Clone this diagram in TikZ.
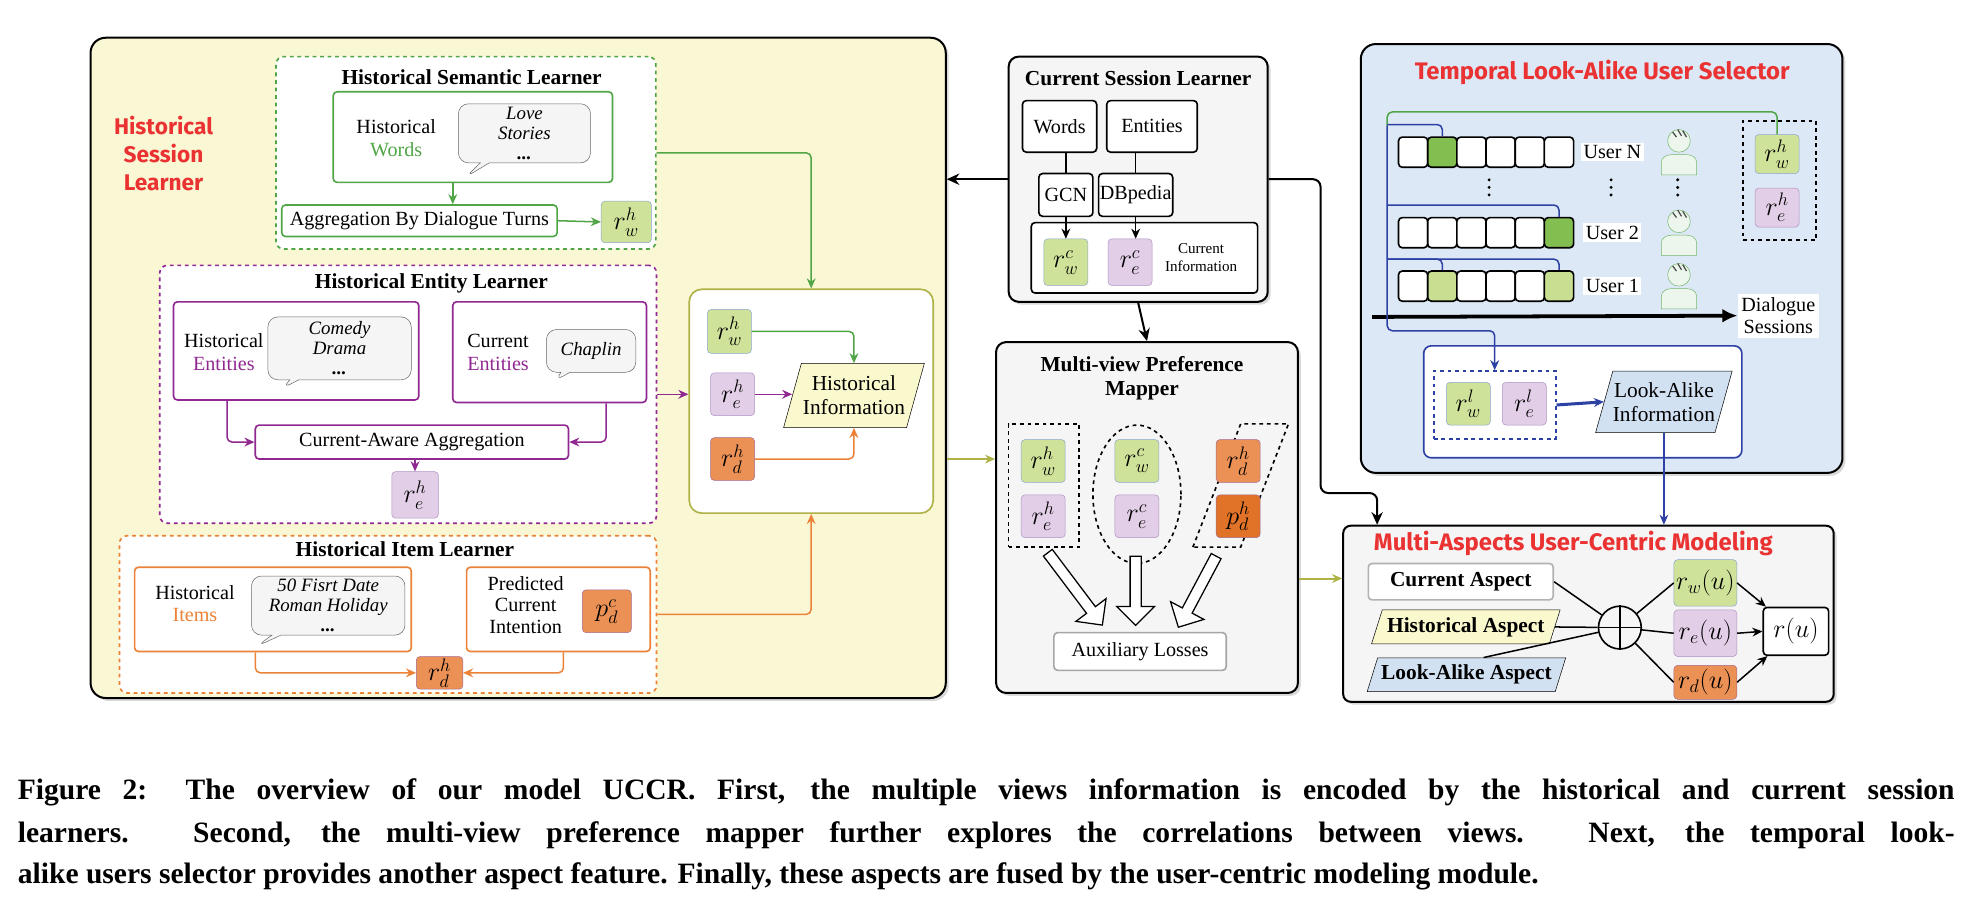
\documentclass[tikz,border=0pt]{standalone}
\usepackage{fontspec}
\setmainfont{Liberation Serif}
\newfontfamily\redfont{Fira Sans}
\usepackage{tikz}
\usetikzlibrary{positioning,shapes,shadows,arrows,arrows.meta,calc}

\definecolor{hslbg}{RGB}{250,248,212}
\definecolor{tlabg}{RGB}{220,232,245}
\definecolor{wfill}{RGB}{207,226,153}
\definecolor{wdraw}{RGB}{140,165,205}
\definecolor{efill}{RGB}{226,206,230}
\definecolor{edraw}{RGB}{175,145,195}
\definecolor{dfill}{RGB}{235,145,85}
\definecolor{pfill}{RGB}{225,115,40}
\definecolor{ddraw}{RGB}{165,105,140}
\definecolor{gline}{RGB}{80,165,70}
\definecolor{pline}{RGB}{145,40,145}
\definecolor{oline}{RGB}{235,130,55}
\definecolor{olive}{RGB}{175,178,70}
\definecolor{bline}{RGB}{45,65,165}
\definecolor{dkg}{RGB}{130,190,80}
\definecolor{ltg}{RGB}{200,222,145}
\definecolor{redt}{RGB}{235,50,50}
\definecolor{hpara}{RGB}{250,248,205}
\definecolor{lpara}{RGB}{210,225,242}

\tikzset{
  base/.style={font=\fontsize{16}{18}\selectfont},
  bigbox/.style={draw, line width=1.6pt, rounded corners=12pt, drop shadow={opacity=0.3}},
  dbox/.style={draw, dashed, line width=1.3pt, rounded corners=6pt, fill=white},
  sbox/.style={draw, line width=1.3pt, rounded corners=3pt, fill=white},
  title/.style={font=\fontsize{17}{19}\selectfont\bfseries},
  redtitle/.style={text=redt, font=\fontsize{18}{22}\selectfont\redfont\bfseries, align=center},
  vec/.style={draw, rounded corners=3pt, minimum width=35, minimum height=34, inner sep=0pt, font=\fontsize{21}{21}\selectfont},
  wv/.style={vec, fill=wfill, draw=wdraw},
  ev/.style={vec, fill=efill, draw=edraw},
  dv/.style={vec, fill=dfill, draw=ddraw},
  bubble/.style={rectangle callout, draw=gray!80!black, fill=gray!8, rounded corners=8pt, align=center, font=\fontsize{15}{16}\selectfont\itshape, inner sep=2pt},
  para/.style={trapezium, trapezium left angle=70, trapezium right angle=110, draw, align=center, inner xsep=0pt, trapezium stretches=true},
  cell/.style={draw, line width=1.3pt, rounded corners=3pt, minimum width=23.2, minimum height=24, inner sep=0pt},
  tip/.style={-{Stealth[length=8pt, width=7pt]}},
  garr/.style={draw=gline, line width=1.2pt, tip, rounded corners=4pt},
  parr/.style={draw=pline, line width=1.2pt, tip, rounded corners=4pt},
  oarr/.style={draw=oline, line width=1.2pt, tip, rounded corners=4pt},
  barr/.style={draw=bline, line width=1.2pt, tip, rounded corners=4pt},
  karr/.style={line width=1.6pt, -{Stealth[length=10pt, width=9pt]}, rounded corners=6pt},
  hollow/.style={single arrow, draw, line width=1pt, fill=white, minimum width=30, single arrow head extend=6pt, inner sep=2pt},
  person/.pic={
    \draw[gline!80, fill=gline!10] (-14,18) -- (-14,8) to[out=90,in=180] (-6,2) -- (6,2) to[out=0,in=90] (14,8) -- (14,18) -- cycle;
    \draw[gline!80, fill=gline!10] (0,-9) circle (9pt);
    \draw[black!70, line width=1pt] (-5,-16) -- (-2,-12) (-1,-18) -- (2,-13) (3,-17) -- (6,-12);
  }
}

\begin{document}
\begin{tikzpicture}[x=1pt, y=-1pt, base]
\useasboundingbox (0,0) rectangle (1568,724);

% historical session learner
\node[bigbox, fill=hslbg, minimum width=680, minimum height=525] (hsl) at (412,292.5) {};
\node[redtitle] (hsltitle) at (130,122) {Historical\\Session\\Learner};

\node[dbox, draw=gline, minimum width=302, minimum height=153] (sem) at (370.5,121.5) {};
\node[title] (semtitle) at (375,61) {Historical Semantic Learner};
\node[sbox, draw=gline, minimum width=222, minimum height=72] (wordsbox) at (376,109) {};
\node[align=center] (hwords) at (315,110) {Historical\\\textcolor{gline}{Words}};
\node[bubble, minimum width=105, minimum height=47, callout absolute pointer={(370,141)}] (bubw) at (417,106) {Love\\Stories\\\textbf{...}};
\node[sbox, draw=gline, minimum width=219, minimum height=25, inner sep=1pt] (agg) at (333.5,175.5) {Aggregation By Dialogue Turns};
\node[wv, minimum width=40, minimum height=33] (rwh1) at (498,176.5) {$r^h_w$};
\draw[garr] ([xshift=-16pt]wordsbox.south) -- ([xshift=-16pt]wordsbox.south |- agg.north);
\draw[garr] (agg.east) -- (rwh1.west);

\node[dbox, draw=pline, minimum width=395, minimum height=205] (ent) at (324.5,313.5) {};
\node[title] (enttitle) at (343,225) {Historical Entity Learner};
\node[sbox, draw=pline, minimum width=195, minimum height=78] (hentbox) at (235.5,279) {};
\node[align=center] (hent) at (178,280) {Historical\\\textcolor{pline}{Entities}};
\node[bubble, minimum width=114, minimum height=50, callout absolute pointer={(224,309)}] (bube) at (270,277) {Comedy\\Drama\\\textbf{...}};
\node[sbox, draw=pline, minimum width=154, minimum height=80] (centbox) at (437,280) {};
\node[align=center] (cent) at (396,280) {Current\\\textcolor{pline}{Entities}};
\node[bubble, minimum width=71, minimum height=34, callout absolute pointer={(441,303)}] (bubc) at (470,279) {Chaplin};
\node[sbox, draw=pline, minimum width=249, minimum height=27] (caa) at (327.5,351.5) {Current-Aware Aggregation};
\node[ev, minimum width=37, minimum height=37] (reh1) at (330,393.5) {$r^h_e$};
\draw[parr] ([xshift=-55pt]hentbox.south) |- (caa.west);
\draw[parr] ([xshift=45pt]centbox.south) |- (caa.east);
\draw[parr] (caa.south -| reh1.north) -- (reh1.north);

\node[dbox, draw=oline, minimum width=427, minimum height=125] (item) at (308.5,488.5) {};
\node[title] (itemtitle) at (322,437) {Historical Item Learner};
\node[sbox, draw=oline, minimum width=220, minimum height=67] (hitbox) at (217,484.5) {};
\node[align=center] (hit) at (155,480) {Historical\\\textcolor{oline}{Items}};
\node[bubble, minimum width=122, minimum height=47, callout absolute pointer={(204,514)}] (bubi) at (261,481.5) {50 Fisrt Date\\Roman Holiday\\\textbf{...}};
\node[sbox, draw=oline, minimum width=146, minimum height=67] (pcibox) at (444,484.5) {};
\node[align=center, font=\fontsize{16}{17}\selectfont] (pci) at (418,481) {Predicted\\Current\\Intention};
\node[dv, minimum width=39] (pdc) at (482.5,486) {$p^c_d$};
\node[dv, minimum width=37, minimum height=26] (rdh1) at (349.5,535) {$r^h_d$};
\draw[oarr] ([xshift=-14pt]hitbox.south) |- (rdh1.west);
\draw[oarr] ([xshift=4pt]pcibox.south) |- (rdh1.east);

\node[sbox, draw=olive, rounded corners=10pt, minimum width=194, minimum height=178] (hibox) at (645,319) {};
\node[wv, minimum height=35] (rwh2) at (580,263.5) {$r^h_w$};
\node[ev] (reh2) at (582.5,313.5) {$r^h_e$};
\node[dv] (rdh2) at (582.5,365) {$r^h_d$};
\node[para, fill=hpara, minimum width=112, minimum height=51, font=\fontsize{17}{19}\selectfont] (hinfo) at (679,314.5) {Historical\\Information};
\draw[garr] (rwh2.east) -| (hinfo.north);
\draw[parr] (reh2.east) -- (reh2.east -| hinfo.west);
\draw[oarr] (rdh2.east) -| (hinfo.south);
\draw[garr] (sem.east) -| (hibox.north);
\draw[parr] (ent.east) -- (ent.east -| hibox.west);
\draw[oarr] (item.east) -| (hibox.south);

% current session learner
\node[bigbox, fill=gray!8, rounded corners=8pt, minimum width=206, minimum height=195] (csl) at (905,142.5) {};
\node[title] (csltitle) at (905,62) {Current Session Learner};
\node[sbox, minimum width=59, minimum height=41] (words) at (842.5,100.5) {Words};
\node[sbox, minimum width=72, minimum height=41] (entities) at (916,100.5) {Entities};
\node[sbox, minimum width=43, minimum height=34, inner sep=1pt] (gcn) at (847.5,155) {GCN};
\node[sbox, minimum width=58, minimum height=34, inner sep=1pt] (dbp) at (903,155) {DBpedia};
\node[sbox, minimum width=180, minimum height=56] (cinfo) at (910,205) {};
\node[wv, minimum height=37] (rwc) at (847.5,208.5) {$r^c_w$};
\node[ev, minimum height=37] (rec) at (898.5,208.5) {$r^c_e$};
\node[align=center, font=\fontsize{12}{14}\selectfont] (cinfotext) at (955,205) {Current\\Information};
\draw[line width=1.2pt] (gcn.north |- words.south) -- (gcn.north);
\draw[line width=1.2pt] (dbp.north |- entities.south) -- (dbp.north);
\draw[line width=1.2pt, tip] (gcn.south) -- (gcn.south |- rwc.north);
\draw[line width=1.2pt, tip] (dbp.south) -- (dbp.south |- rec.north);

% multi-view preference mapper
\node[bigbox, fill=gray!8, rounded corners=8pt, minimum width=240, minimum height=279] (mvp) at (912,411.5) {};
\node[title, align=center] (mvptitle) at (908,301) {Multi-view Preference\\Mapper};
\node[draw, dashed, line width=1.3pt, minimum width=56, minimum height=98] (dash1) at (830,386) {};
\node[wv] (rwh3) at (829.5,366.5) {$r^h_w$};
\node[ev] (reh3) at (829.5,410.5) {$r^h_e$};
\node[ellipse, draw, dashed, line width=1.3pt, minimum width=70, minimum height=110] (ell) at (904,393) {};
\node[wv] (rwc2) at (904,366.5) {$r^c_w$};
\node[ev] (rec2) at (904,410.5) {$r^c_e$};
\node[para, dashed, line width=1.3pt, trapezium left angle=80, trapezium right angle=100, minimum width=76, minimum height=98] (dpara) at (986.5,386) {};
\node[dv] (rdh3) at (984.5,366.5) {$r^h_d$};
\node[dv, fill=pfill] (pdh) at (984.5,410.5) {$p^h_d$};
\node[sbox, draw=gray!70, minimum width=137, minimum height=30] (aux) at (906.5,518) {Auxiliary Losses};
\node[hollow, minimum height=72, rotate=-53] (ha1) at (853.5,466.5) {};
\node[hollow, minimum height=55, rotate=-90] (ha2) at (903,467.5) {};
\node[hollow, minimum height=64, rotate=-118] (ha3) at (953,468.5) {};

% temporal look-alike user selector
\node[bigbox, fill=tlabg, minimum width=383, minimum height=341] (tla) at (1273.5,205.5) {};
\node[redtitle, font=\fontsize{19}{21}\selectfont\redfont\bfseries] (tlatitle) at (1274,58) {Temporal Look-Alike User Selector};
\foreach \r/\yy/\ga/\gb/\gc in {N/121/2/2/dkg, 2/185/6/6/dkg, 1/227.5/2/6/ltg} {
  \foreach \i in {1,...,6} {
    \pgfmathtruncatemacro\hit{(\i==\ga)||(\i==\gb)}
    \ifnum\hit=1 \def\cf{\gc}\else\def\cf{white}\fi
    \node[cell, fill=\cf] (c-\r-\i) at ({1112+23.2*(\i-0.5)},\yy) {};
  }
  \node[fill=white, inner sep=2pt] (u-\r) at (1282,\yy) {User \r};
  \pic at (1335,\yy) {person};
}
\foreach \xx in {1184,1281,1334}
  \foreach \dy in {-6,0,6} \fill (\xx,149+\dy) circle (1.3pt);
\node[fill=white, align=center, inner sep=3pt] (dsess) at (1414,251) {Dialogue\\Sessions};
\coordinate (dstart) at (1091,252);
\draw[line width=3pt, -{Latex[length=12pt, width=11pt]}] (dstart) -- (dsess.west);
\node[draw, dashed, line width=1.3pt, minimum width=58, minimum height=95] (rbox) at (1415,143.5) {};
\node[wv, minimum height=31] (rwh4) at (1413,122.5) {$r^h_w$};
\node[ev, minimum height=31] (reh4) at (1413,165) {$r^h_e$};
\node[sbox, draw=bline, rounded corners=6pt, minimum width=253, minimum height=89] (labox) at (1258.5,319.5) {};
\node[draw=bline, dashed, line width=1.3pt, minimum width=97, minimum height=54] (ldash) at (1188.5,322) {};
\node[wv] (rwl) at (1167.5,321) {$r^l_w$};
\node[ev] (rel) at (1212,321) {$r^l_e$};
\node[para, fill=lpara, minimum width=106, minimum height=49, font=\fontsize{17}{19}\selectfont] (lainfo) at (1323,319.5) {Look-Alike\\Information};
\coordinate (bl) at (1103,100);
\draw[draw=gline, line width=1.2pt, rounded corners=4pt] (rwh4.north) |- (1103,89) -- (bl);
\draw[barr] (bl) -- (1103,263) -| (ldash.north);
\draw[barr, -] (1103,99) -| (c-N-2.north);
\draw[barr, -] (1103,163) -| (c-2-6.north);
\draw[barr, -] (1103,206) -| (c-1-6.north);
\draw[barr, -] (c-1-2.north) |- (1103,206);
\draw[barr, line width=2.4pt] (ldash.east) -- (lainfo.west);

% multi-aspects user-centric modeling
\node[bigbox, fill=gray!8, rounded corners=6pt, minimum width=390, minimum height=140] (mau) at (1263,488) {};
\node[redtitle, font=\fontsize{19}{21}\selectfont\redfont\bfseries] (mautitle) at (1251,432) {Multi-Aspects User-Centric Modeling};
\node[sbox, draw=gray!60, minimum width=147, minimum height=29, font=\fontsize{17}{19}\selectfont\bfseries] (curasp) at (1161.5,462.5) {Current Aspect};
\node[para, fill=hpara, minimum width=150, minimum height=27, font=\fontsize{17}{19}\selectfont\bfseries] (hisasp) at (1165.5,498.5) {Historical Aspect};
\node[para, fill=lpara, minimum width=158, minimum height=27, font=\fontsize{17}{19}\selectfont\bfseries] (laasp) at (1166,536.5) {Look-Alike Aspect};
\node[circle, draw, line width=1.3pt, minimum size=34] (op) at (1288,499) {};
\draw[line width=1.3pt] (op.north) -- (op.south) (op.west) -- (op.east);
\node[wv, minimum width=50, minimum height=37] (rwu) at (1356,463.5) {$r_w(u)$};
\node[ev, minimum width=50, minimum height=37] (reu) at (1356,503.5) {$r_e(u)$};
\node[dv, minimum width=50, minimum height=27] (rdu) at (1356,542.5) {$r_d(u)$};
\node[sbox, minimum width=52, minimum height=38, inner sep=0pt, font=\fontsize{21}{21}\selectfont] (ru) at (1428,502) {$r(u)$};
\draw[line width=1.2pt] (curasp.east) -- (op) (hisasp.east) -- (op) (laasp.north east) -- (op);
\draw[line width=1.2pt] (op) -- (rwu.west) (op) -- (reu.west) (op) -- (rdu.west);
\draw[line width=1.2pt, tip] (rwu.east) -- (ru);
\draw[line width=1.2pt, tip] (reu.east) -- (ru.west);
\draw[line width=1.2pt, tip] (rdu.east) -- (ru);

% links between modules
\draw[karr] (csl.west) -- (csl.west -| hsl.east);
\draw[karr] (csl.south) -- (mvp.north);
\draw[karr] (csl.east) -- (1050,142.5) -- (1050,392) -- (1095,392) -- (mau.north -| 1095,0);
\draw[draw=olive, line width=1.6pt, tip] (hsl.east |- 0,365) -- (mvp.west |- 0,365);
\draw[draw=olive, line width=1.6pt, tip] (mvp.east |- 0,460) -- (mau.west |- 0,460);
\draw[barr] (lainfo.south) -- (lainfo.south |- mau.north);

% caption
\begin{scope}[every node/.style={anchor=west, inner sep=0pt, font=\fontsize{23.5}{26}\selectfont\bfseries}]
\node (cap1) at (14,630) {\makebox[1540pt][s]{Figure 2: The overview of our model UCCR. First, the multiple views information is encoded by the historical and current session}};
\node (cap2) at (14,664) {\makebox[1540pt][s]{learners. Second, the multi-view preference mapper further explores the correlations between views. Next, the temporal look-}};
\node (cap3) at (14,697) {alike users selector provides another aspect feature. Finally, these aspects are fused by the user-centric modeling module.};
\end{scope}
\end{tikzpicture}
\end{document}
